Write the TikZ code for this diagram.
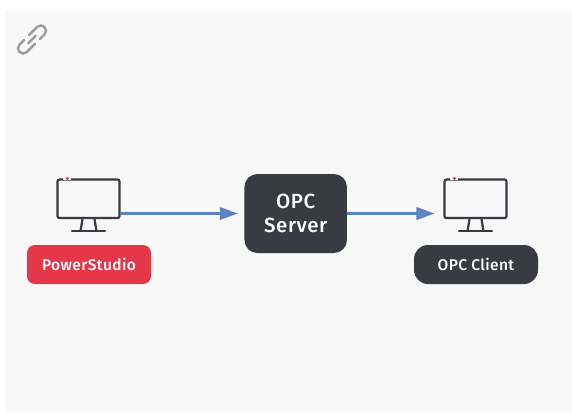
\documentclass[tikz,border=0pt]{standalone}
\usepackage{fontspec}
\setmainfont{Fira Sans Medium}[LetterSpace=2.5]
\usetikzlibrary{arrows.meta}
\definecolor{bgpanel}{HTML}{F8F8F8}
\definecolor{darkbox}{HTML}{383B42}
\definecolor{redbox}{HTML}{E5364A}
\definecolor{flowblue}{HTML}{5D83C2}
\definecolor{icongray}{HTML}{9C9C9C}
\tikzset{
  boxtext/.style={text=white,align=center,inner sep=0pt,font=\fontsize{15.5}{16}\selectfont},
  screen/.style={draw=darkbox,line width=2.2pt,rounded corners=2pt,minimum width=62pt,minimum height=38.5pt,inner sep=0pt,fill=bgpanel},
  standline/.style={draw=darkbox,line width=2.2pt},
  flow/.style={draw=flowblue,line width=2.5pt,-{Triangle[length=18pt,width=12.5pt]}},
  linkline/.style={draw=icongray,line width=2.4pt,line cap=round}
}
\begin{document}
\begin{tikzpicture}[x=1pt,y=-1pt]
\useasboundingbox (0,0) rectangle (572,412);
\fill[white] (0,0) rectangle (572,412);
\fill[bgpanel] (5,10) rectangle (572,412);
% link icon
\begin{scope}[shift={(32,39.5)}]
\begin{scope}[rotate=45,y=1pt]
  \draw[linkline] (1,5.2) -- (12.5,5.2) arc[start angle=90,end angle=-90,radius=5.2] -- (6,-5.2);
  \draw[linkline] (-1,-5.2) -- (-12.5,-5.2) arc[start angle=270,end angle=90,radius=5.2] -- (-6,5.2);
  \draw[linkline] (-5.5,0) -- (5.5,0);
\end{scope}
\end{scope}
% monitors
\node[screen] (mon1) at (88.5,198.8) {};
\node[screen] (mon2) at (475.5,198.8) {};
\foreach \m in {mon1,mon2}{
  \fill[bgpanel] ([xshift=7pt,yshift=1.3pt]\m.north west) rectangle ([xshift=15pt,yshift=-1.3pt]\m.north west);
  \fill[redbox] ([xshift=11pt]\m.north west) circle (1.7pt);
  \draw[standline] ([xshift=-6pt]\m.south) -- ([xshift=-8pt,yshift=-12pt]\m.south);
  \draw[standline] ([xshift=6pt]\m.south) -- ([xshift=8pt,yshift=-12pt]\m.south);
  \draw[standline,line cap=round] ([xshift=-16.5pt,yshift=-12pt]\m.south) -- ([xshift=16.5pt,yshift=-12pt]\m.south);
}
% boxes
\node[fill=redbox,rounded corners=8pt,minimum width=124pt,minimum height=39pt,boxtext] (ps) at (89,264.5) {\raisebox{0.8pt}{PowerStudio}};
\node[fill=darkbox,rounded corners=14pt,minimum width=124pt,minimum height=39pt,boxtext] (cl) at (476,264.5) {\raisebox{0.8pt}{OPC Client}};
\node[fill=darkbox,rounded corners=13pt,minimum width=102.5pt,minimum height=79pt,boxtext,font=\fontsize{20.5}{24}\selectfont] (srv) at (295.7,213.5) {OPC\\Server};
% connectors
\draw[flow,shorten >=6.5pt] (mon1.east |- srv.west) -- (srv.west);
\draw[flow,shorten >=9pt] (srv.east) -- (mon2.west |- srv.east);
\end{tikzpicture}
\end{document}
